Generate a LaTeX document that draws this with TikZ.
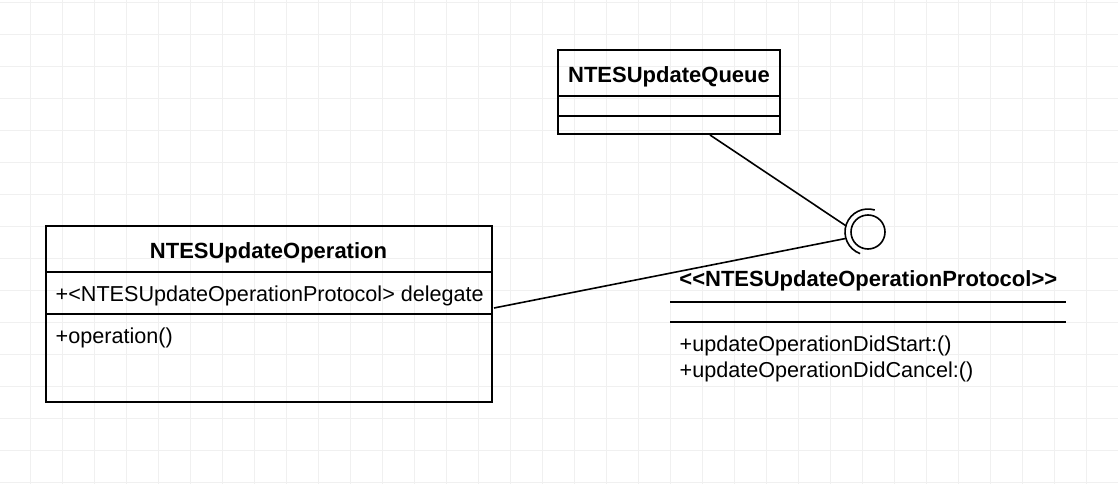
\documentclass[tikz,border=0pt]{standalone}
\usepackage{fontspec}
\setmainfont{Liberation Sans}[Ligatures=NoCommon]
\definecolor{gridc}{RGB}{240,240,240}
\begin{document}
\begin{tikzpicture}[x=1pt,y=-1pt,
  umlbox/.style={draw=black, line width=1.6pt, rectangle, inner sep=0pt},
  sep/.style={line width=1.6pt},
  conn/.style={line width=1.6pt},
  titletxt/.style={inner sep=0pt, anchor=base, font=\fontsize{22}{26}\selectfont\bfseries},
  membtxt/.style={inner sep=0pt, anchor=base west, font=\fontsize{21.6}{26}\selectfont}]
\useasboundingbox (0,0) rectangle (1118,484);
\fill[white] (0,0) rectangle (1118,484);
% grid
\foreach \x in {30.5,62.5,...,1118}{\draw[gridc, line width=1pt] (\x,0) -- (\x,484);}
\foreach \y in {2.5,34.5,...,484}{\draw[gridc, line width=1pt] (0,\y) -- (1118,\y);}
% NTESUpdateQueue
\node[umlbox, minimum width=222pt, minimum height=84pt] (queue) at (669,92) {};
\draw[sep] (558,96) -- (780,96);
\draw[sep] (558,116) -- (780,116);
\node[titletxt] (queuet) at (669,83) {NTESUpdateQueue};
% NTESUpdateOperation
\node[umlbox, minimum width=446pt, minimum height=176pt] (op) at (269,314) {};
\draw[sep] (46,272) -- (492,272);
\draw[sep] (46,314) -- (492,314);
\node[titletxt] (opt) at (268.5,258.5) {NTESUpdateOperation};
\node[membtxt] (opd) at (55.5,301.5) {+{<}NTESUpdateOperationProtocol{>} delegate};
\node[membtxt] (opm) at (55.5,343) {+operation()};
% interface
\node[draw, circle, line width=1.6pt, minimum size=34pt, inner sep=0pt] (ball) at (868,232) {};
\draw[line width=1.6pt] (868,232) ++(110:23) arc[start angle=110, end angle=287, radius=23];
\node[titletxt] (prot) at (868.3,286) {{<}{<}NTESUpdateOperationProtocol{>}{>}};
\draw[sep] (670,302) -- (1066,302);
\draw[sep] (670,322) -- (1066,322);
\node[membtxt] (pm1) at (679.5,351) {+updateOperationDidStart:()};
\node[membtxt] (pm2) at (679.5,377) {+updateOperationDidCancel:()};
% connectors
\coordinate (qa) at (710,135);
\coordinate (s1) at (845.5,225.5);
\coordinate (oa) at (494,308);
\coordinate (s2) at (845.5,238.5);
\draw[conn] (qa) -- (s1);
\draw[conn] (oa) -- (s2);
\end{tikzpicture}
\end{document}
